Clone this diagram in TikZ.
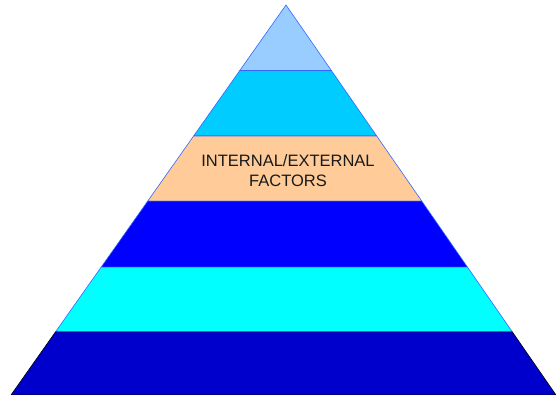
\documentclass[tikz,border=0pt]{standalone}
\usepackage{fontspec}
\setmainfont{Liberation Sans}
\usetikzlibrary{calc}
\definecolor{tipblue}{HTML}{99CCFF}
\definecolor{skyblue}{HTML}{00CCFF}
\definecolor{peach}{HTML}{FFCC99}
\definecolor{pureblue}{HTML}{0000FF}
\definecolor{aqua}{HTML}{00FFFF}
\definecolor{deepblue}{HTML}{0000CC}
\definecolor{edgeblue}{HTML}{3366FF}
\begin{document}
\begin{tikzpicture}[x=1pt, y=1pt, line join=miter]
	\useasboundingbox (0,0) rectangle (556,395);
	% 1. outline of the pyramid
	\coordinate (apex) at (286,390);
	\coordinate (baseL) at (11,0);
	\coordinate (baseR) at (556,0);
	
	% 2. six layers, top to bottom (fractions from apex)
	\foreach \ta/\tb/\col/\edge in {0/0.168/tipblue/edgeblue, 0.168/0.336/skyblue/edgeblue, 0.336/0.503/peach/edgeblue, 0.503/0.672/pureblue/edgeblue, 0.672/0.838/aqua/edgeblue, 0.838/1/deepblue/black} {
		\filldraw[fill=\col, draw=\edge, line width=0.6pt]
			($(apex)!\ta!(baseL)$) -- ($(apex)!\tb!(baseL)$) -- ($(apex)!\tb!(baseR)$) -- ($(apex)!\ta!(baseR)$) -- cycle;
	}
	
	% 3. label of the middle layer
	\node[align=center, font=\fontsize{16.5}{20.3}\selectfont, text=black!90] (factors) at (288,224.5) {INTERNAL/EXTERNAL\\FACTORS};
\end{tikzpicture}
\end{document}
